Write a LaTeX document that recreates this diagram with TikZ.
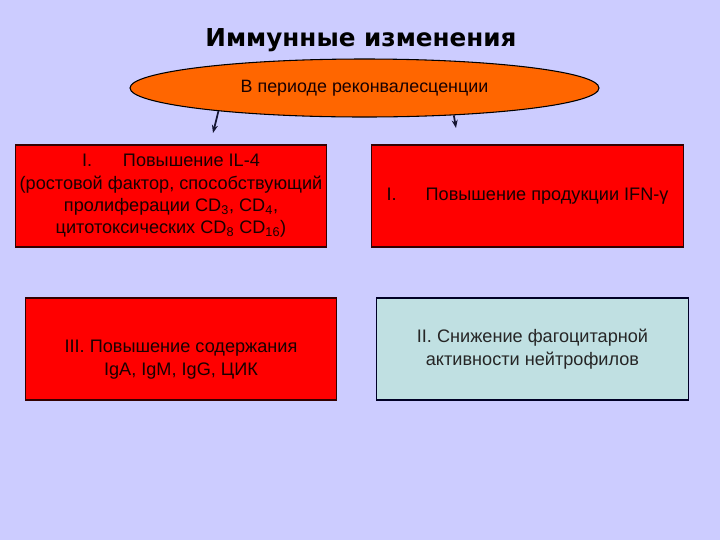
\documentclass[tikz,border=0pt]{standalone}
\usepackage{fontspec}
\setmainfont{Liberation Sans}
\newfontfamily\titlefont{DejaVu Sans}
\usepackage{tikz}
\usetikzlibrary{shapes.geometric,arrows.meta}
\definecolor{slidebg}{RGB}{204,204,255}
\definecolor{ovalorange}{RGB}{255,102,0}
\definecolor{boxred}{RGB}{255,0,0}
\definecolor{boxblue}{RGB}{192,224,226}
\definecolor{arrowink}{RGB}{20,20,50}
\tikzstyle{boxtext}=[align=center, font=\fontsize{13.6}{16.8}\selectfont, text=black!90!red]
\tikzstyle{stage}=[rectangle, draw=black!80!red, line width=0.8pt, boxtext,
  minimum width=233.5pt, minimum height=76.5pt, inner sep=2pt]
\tikzstyle{redbox}=[stage, fill=boxred]
\tikzstyle{bluebox}=[stage, fill=boxblue, draw=black!85!blue, text=black!85]
\tikzstyle{link}=[draw=arrowink, line width=1.3pt, -{Stealth[length=6pt,width=4.5pt]}]
\newcommand{\stage}{\node[redbox]}

\begin{document}
\begin{tikzpicture}[x=0.75pt, y=-0.75pt]
	%% the slide
	\fill[slidebg] (0,0) rectangle (720,540);
	\useasboundingbox (0,0) rectangle (720,540);
	\node (title) at (361,40) {\titlefont\bfseries\fontsize{18.5}{22}\selectfont Иммунные изменения};
	%% the oval
	\node[ellipse, draw=black, line width=0.8pt, fill=ovalorange, minimum width=351.75pt,
		minimum height=43.5pt, inner sep=0pt, font=\fontsize{13.4}{16}\selectfont, text=black!90!red]
		(oval) at (364.5,88) {В периоде реконвалесценции};
	%% the four boxes
	\stage (il4) at (171,196) {I.\hspace{1.7em}Повышение IL-4\\(ростовой фактор, способствующий\\
		пролиферации CD\textsubscript{3}, CD\textsubscript{4},\\цитотоксических CD\textsubscript{8} CD\textsubscript{16})};
	\stage (ifn) at (527.5,196) {I.\hspace{1.6em}Повышение продукции IFN-γ};
	\stage[label={[boxtext, yshift=-8pt]center:III. Повышение содержания\\IgA, IgM, IgG, ЦИК}] (ig) at (181,349) {};
	\node[bluebox] (phag) at (532.5,349) {II. Снижение фагоцитарной\\активности нейтрофилов};
	%% the two arrows
	\coordinate (lend) at (213,133);
	\coordinate (rend) at (456,128);
	\path[link] (oval.189) -- (lend);
	\path[link] (oval.343) -- (rend);
\end{tikzpicture}
\end{document}
